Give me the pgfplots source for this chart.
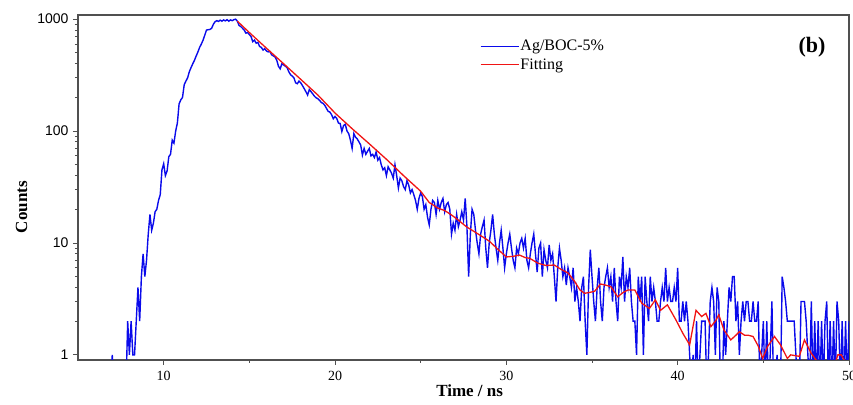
\documentclass[border=0pt]{standalone}
\usepackage{pgfplots}
\pgfplotsset{compat=1.18}
\usepackage{fontspec}
\setmainfont{Liberation Serif}
\newfontfamily\arialfont{Liberation Sans}
\definecolor{dblue}{RGB}{10,10,235}
\definecolor{dred}{RGB}{240,20,20}
\definecolor{axgray}{RGB}{80,80,80}
\pgfplotsset{
  legend image code/.code={\draw[#1] (0pt,0pt) -- (38pt,0pt);},
  legend image post style={line width=1.6pt},
}
\begin{document}
\begin{tikzpicture}
\begin{axis}[
  name=ax,
  scale only axis,
  width=771pt, height=345pt,
  ymode=log,
  xmin=5, xmax=50, ymin=0.9, ymax=1090,
  xtick={10,20,30,40,50},
  minor x tick num=1,
  ytick={1,10,100,1000},
  yticklabels={1,10,100,1000},
  minor ytick={2,3,4,5,6,7,8,9,20,30,40,50,60,70,80,90,200,300,400,500,600,700,800,900},
  tick pos=left,
  tick align=outside,
  major tick length=5pt,
  minor tick length=3pt,
  axis line style={axgray, line width=1.1pt},
  every tick/.style={axgray, line width=0.9pt},
  /pgf/number format/assume math mode=true,
  xticklabel style={font=\fontsize{14}{14}\selectfont, yshift=-3pt},
  yticklabel style={font=\arialfont\fontsize{14}{14}\selectfont, xshift=-1pt},
  xlabel={\textbf{Time / ns}},
  ylabel={\textbf{Counts}},
  xlabel style={font=\fontsize{17}{17}\selectfont, at={(axis description cs:0.508,-0.09)}, anchor=center},
  ylabel style={font=\fontsize{17}{17}\selectfont, at={(axis description cs:-0.073,0.443)}, anchor=center},
  legend style={at={(0.521,0.93)}, anchor=north west, draw=none, fill=none,
    font=\fontsize{16}{16}\selectfont, row sep=4pt, inner sep=0pt,
    nodes={inner sep=1pt}},
  legend cell align=left,
  clip=true,
]
\addplot[dblue, line width=1.4pt, sharp plot] table[row sep=\\] {
x y \\
6.5 0.5 \\ 6.6 0.5 \\ 6.7 0.5 \\ 6.8 0.5 \\ 6.9 0.5 \\ 7.0 1 \\ 7.1 0.5 \\ 7.2 0.5 \\ 7.3 0.5 \\ 7.4 0.5 \\
7.5 0.5 \\ 7.6 0.5 \\ 7.7 0.5 \\ 7.8 0.5 \\ 7.9 2 \\ 8.0 1 \\ 8.1 2 \\ 8.2 1 \\ 8.3 1 \\ 8.4 2 \\
8.5 4 \\ 8.6 2 \\ 8.7 5 \\ 8.8 8 \\ 8.9 5 \\ 9.0 7 \\ 9.1 12 \\ 9.2 18 \\ 9.3 13 \\ 9.4 15 \\
9.5 19 \\ 9.6 20 \\ 9.7 24 \\ 9.8 27 \\ 9.9 45 \\ 10.0 51 \\ 10.1 40 \\ 10.2 44 \\ 10.3 59 \\ 10.4 62 \\
10.5 83 \\ 10.6 78 \\ 10.7 100 \\ 10.8 118 \\ 10.9 175 \\ 11.0 190 \\ 11.1 200 \\ 11.2 260 \\ 11.3 280 \\ 11.4 300 \\
11.5 340 \\ 11.6 370 \\ 11.7 400 \\ 11.8 430 \\ 11.9 470 \\ 12.0 510 \\ 12.1 560 \\ 12.2 600 \\ 12.3 650 \\ 12.4 720 \\
12.5 800 \\ 12.6 805 \\ 12.7 810 \\ 12.8 830 \\ 12.9 900 \\ 13.0 950 \\ 13.1 970 \\ 13.2 955 \\ 13.3 980 \\ 13.4 960 \\
13.5 985 \\ 13.6 965 \\ 13.7 990 \\ 13.8 960 \\ 13.9 985 \\ 14.0 970 \\ 14.1 990 \\ 14.2 1000 \\ 14.3 960 \\ 14.4 880 \\
14.5 860 \\ 14.6 830 \\ 14.7 800 \\ 14.8 750 \\ 14.9 760 \\ 15.0 730 \\ 15.1 700 \\ 15.2 630 \\ 15.3 650 \\ 15.4 610 \\
15.5 620 \\ 15.6 570 \\ 15.7 560 \\ 15.8 530 \\ 15.9 545 \\ 16.0 520 \\ 16.1 510 \\ 16.2 515 \\ 16.3 480 \\ 16.4 470 \\
16.5 460 \\ 16.6 430 \\ 16.7 380 \\ 16.8 360 \\ 16.9 400 \\ 17.0 390 \\ 17.1 380 \\ 17.2 370 \\ 17.3 340 \\ 17.4 320 \\
17.5 310 \\ 17.6 300 \\ 17.7 270 \\ 17.8 265 \\ 17.9 280 \\ 18.0 270 \\ 18.1 255 \\ 18.2 240 \\ 18.3 225 \\ 18.4 210 \\
18.5 235 \\ 18.6 225 \\ 18.7 215 \\ 18.8 205 \\ 18.9 198 \\ 19.0 195 \\ 19.1 188 \\ 19.2 180 \\ 19.3 177 \\ 19.4 170 \\
19.5 160 \\ 19.6 150 \\ 19.7 148 \\ 19.8 140 \\ 19.9 129 \\ 20.0 135 \\ 20.1 130 \\ 20.2 118 \\ 20.3 117 \\ 20.4 99 \\
20.5 112 \\ 20.6 115 \\ 20.7 100 \\ 20.8 95 \\ 20.9 83 \\ 21.0 70 \\ 21.1 95 \\ 21.2 88 \\ 21.3 85 \\ 21.4 80 \\
21.5 75 \\ 21.6 61 \\ 21.7 70 \\ 21.8 62 \\ 21.9 66 \\ 22.0 70 \\ 22.1 60 \\ 22.2 62 \\ 22.3 58 \\ 22.4 65 \\
22.5 55 \\ 22.6 58 \\ 22.7 50 \\ 22.8 45 \\ 22.9 47 \\ 23.0 40 \\ 23.1 48 \\ 23.2 45 \\ 23.3 42 \\ 23.4 38 \\
23.5 50 \\ 23.6 40 \\ 23.7 31 \\ 23.8 38 \\ 23.9 36 \\ 24.0 32 \\ 24.1 30 \\ 24.2 36 \\ 24.3 33 \\ 24.4 28 \\
24.5 30 \\ 24.6 27 \\ 24.7 24 \\ 24.8 20 \\ 24.9 25 \\ 25.0 28 \\ 25.1 26 \\ 25.2 20 \\ 25.3 22 \\ 25.4 17 \\
25.5 14.5 \\ 25.6 20 \\ 25.7 24 \\ 25.8 23 \\ 25.9 18 \\ 26.0 24 \\ 26.1 20 \\ 26.2 23 \\ 26.3 25 \\ 26.4 19 \\
26.5 22 \\ 26.6 23 \\ 26.7 20 \\ 26.8 12 \\ 26.9 15 \\ 27.0 13 \\ 27.1 18 \\ 27.2 14 \\ 27.3 16 \\ 27.4 19 \\
27.5 16 \\ 27.6 25 \\ 27.7 14 \\ 27.8 5 \\ 27.9 12 \\ 28.0 20 \\ 28.1 18 \\ 28.2 13 \\ 28.3 10 \\ 28.4 8 \\
28.5 12 \\ 28.6 14 \\ 28.7 16 \\ 28.8 9 \\ 28.9 6 \\ 29.0 10 \\ 29.1 13 \\ 29.2 18 \\ 29.3 12 \\ 29.4 9 \\
29.5 7 \\ 29.6 10 \\ 29.7 13 \\ 29.8 9 \\ 29.9 6 \\ 30.0 8 \\ 30.1 10 \\ 30.2 12 \\ 30.3 9 \\ 30.4 7 \\
30.5 6 \\ 30.6 9 \\ 30.7 8 \\ 30.8 10 \\ 30.9 11 \\ 31.0 9 \\ 31.1 11 \\ 31.2 7 \\ 31.3 6 \\ 31.4 8 \\
31.5 10 \\ 31.6 12 \\ 31.7 8 \\ 31.8 5.5 \\ 31.9 9 \\ 32.0 10 \\ 32.1 5 \\ 32.2 8.7 \\ 32.3 7 \\ 32.4 6 \\
32.5 9.6 \\ 32.6 7 \\ 32.7 8 \\ 32.8 5 \\ 32.9 3 \\ 33.0 6 \\ 33.1 9 \\ 33.2 7 \\ 33.3 5 \\ 33.4 6 \\
33.5 4.2 \\ 33.6 6 \\ 33.7 5 \\ 33.8 4 \\ 33.9 6 \\ 34.0 3 \\ 34.1 4 \\ 34.2 3 \\ 34.3 2 \\ 34.4 4 \\
34.5 5 \\ 34.6 2 \\ 34.7 1 \\ 34.8 4 \\ 34.9 8.7 \\ 35.0 5 \\ 35.1 3 \\ 35.2 2 \\ 35.3 4 \\ 35.4 6 \\
35.5 3 \\ 35.6 2 \\ 35.7 4 \\ 35.8 5 \\ 35.9 6 \\ 36.0 4 \\ 36.1 5 \\ 36.2 3 \\ 36.3 6 \\ 36.4 3 \\
36.5 2 \\ 36.6 5 \\ 36.7 4 \\ 36.8 7.5 \\ 36.9 3 \\ 37.0 5 \\ 37.1 4 \\ 37.2 6 \\ 37.3 3 \\ 37.4 2 \\
37.5 2 \\ 37.6 1 \\ 37.7 5 \\ 37.8 3 \\ 37.9 5 \\ 38.0 1 \\ 38.1 5 \\ 38.2 3 \\ 38.3 2 \\ 38.4 5 \\
38.5 3 \\ 38.6 4 \\ 38.7 3 \\ 38.8 2 \\ 38.9 2 \\ 39.0 3 \\ 39.1 4 \\ 39.2 3 \\ 39.3 6 \\ 39.4 3 \\
39.5 4 \\ 39.6 3 \\ 39.7 3 \\ 39.8 4 \\ 39.9 3 \\ 40.0 6 \\ 40.1 2 \\ 40.2 2 \\ 40.3 3 \\ 40.4 2 \\
40.5 3 \\ 40.6 2 \\ 40.7 1 \\ 40.8 0.5 \\ 40.9 1 \\ 41.0 0.5 \\ 41.1 2 \\ 41.2 0.5 \\ 41.3 1 \\ 41.4 2 \\
41.5 2 \\ 41.6 2 \\ 41.7 0.5 \\ 41.8 1 \\ 41.9 3 \\ 42.0 4 \\ 42.1 3 \\ 42.2 1 \\ 42.3 4 \\ 42.4 3 \\
42.5 0.5 \\ 42.6 0.5 \\ 42.7 2 \\ 42.8 1 \\ 42.9 2 \\ 43.0 4 \\ 43.1 3 \\ 43.2 5 \\ 43.3 5 \\ 43.4 2 \\
43.5 3 \\ 43.6 1 \\ 43.7 2 \\ 43.8 3 \\ 43.9 2 \\ 44.0 3 \\ 44.1 3 \\ 44.2 2 \\ 44.3 2 \\ 44.4 3 \\
44.5 2 \\ 44.6 2 \\ 44.7 3 \\ 44.8 0.5 \\ 44.9 1 \\ 45.0 2 \\ 45.1 0.5 \\ 45.2 2 \\ 45.3 0.5 \\ 45.4 1 \\
45.5 3 \\ 45.6 0.5 \\ 45.7 0.5 \\ 45.8 1 \\ 45.9 0.5 \\ 46.0 0.5 \\ 46.1 5 \\ 46.2 4 \\ 46.3 3 \\ 46.4 2 \\
46.5 2 \\ 46.6 2 \\ 46.7 2 \\ 46.8 2 \\ 46.9 1 \\ 47.0 0.5 \\ 47.1 0.5 \\ 47.2 3 \\ 47.3 3 \\ 47.4 3 \\
47.5 2 \\ 47.6 1 \\ 47.7 0.5 \\ 47.8 3 \\ 47.9 0.5 \\ 48.0 2 \\ 48.1 0.5 \\ 48.2 2 \\ 48.3 0.5 \\ 48.4 2 \\
48.5 0.5 \\ 48.6 2 \\ 48.7 3 \\ 48.8 0.5 \\ 48.9 2 \\ 49.0 0.5 \\ 49.1 2 \\ 49.2 0.5 \\ 49.3 3 \\ 49.4 2 \\
49.5 0.5 \\ 49.6 2 \\ 49.7 0.5 \\ 49.8 2 \\ 49.9 0.5 \\ 50.0 2 \\
};
\addlegendentry{Ag/BOC-5\%}
\addplot[dred, line width=1.3pt, sharp plot] table[row sep=\\] {
x y \\
14.3 960 \\ 15.0 760 \\ 16.0 550 \\ 17.0 400 \\ 18.0 290 \\ 19.0 210 \\ 20.0 145 \\ 21.0 105 \\
22.0 77 \\ 23.0 56 \\ 24.0 40 \\ 25.0 29 \\ 25.5 23 \\ 26.0 20.5 \\ 26.4 19.5 \\ 26.8 17.8 \\
27.2 16 \\ 27.66 14 \\ 28.0 13 \\ 28.44 11.8 \\ 29.0 10.4 \\ 29.5 8.8 \\ 30.0 7.5 \\ 30.4 7.6 \\
30.77 7.8 \\ 31.1 7.4 \\ 31.36 7.3 \\ 31.84 6.6 \\ 32.3 6.3 \\ 32.8 6.35 \\ 33.2 5.8 \\ 33.6 5.4 \\
34.0 4.5 \\ 34.3 3.8 \\ 34.56 3.55 \\ 34.8 3.6 \\ 35.15 3.7 \\ 35.5 4.3 \\ 35.8 4.2 \\ 36.1 4.07 \\
36.5 3.3 \\ 36.8 3.6 \\ 37.1 3.8 \\ 37.5 3.8 \\ 37.9 2.9 \\ 38.35 2.6 \\ 38.7 3.1 \\ 39.0 2.5 \\
39.4 2.8 \\ 39.9 2.05 \\ 40.3 1.56 \\ 40.7 1.23 \\ 41.07 2.5 \\ 41.4 2.2 \\ 41.65 2.35 \\ 41.94 1.79 \\
42.2 2.0 \\ 42.4 2.28 \\ 42.7 1.67 \\ 43.1 1.36 \\ 43.4 1.5 \\ 43.6 1.61 \\ 43.9 1.5 \\ 44.1 1.5 \\
44.4 1.46 \\ 44.7 1.2 \\ 44.96 0.93 \\ 45.25 1.19 \\ 45.65 1.46 \\ 46.0 1.23 \\ 46.4 0.93 \\ 46.6 1.0 \\
47.1 0.97 \\ 47.4 1.36 \\ 47.8 1.03 \\ 48.2 0.85 \\ 49.2 0.85 \\ 49.35 1.0 \\ 49.55 1.0 \\ 49.8 0.85 \\
50.0 0.85 \\
};
\addlegendentry{Fitting}
\node[font=\bfseries\fontsize{22}{22}\selectfont] at (rel axis cs:0.952,0.907) {(b)};
\end{axis}
\pgfresetboundingbox
\path ([shift={(-78pt,-45pt)}]ax.south west) rectangle ([shift={(4pt,15pt)}]ax.north east);
\end{tikzpicture}
\end{document}
